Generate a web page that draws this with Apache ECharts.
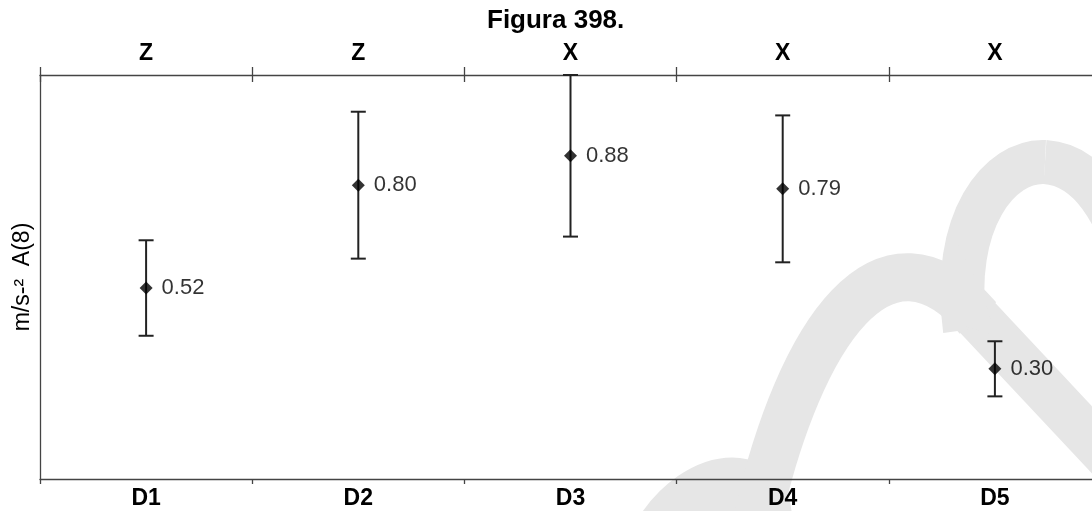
<!DOCTYPE html>
<html>
<head>
<meta charset="utf-8">
<script src="https://cdn.jsdelivr.net/npm/echarts@6/dist/echarts.min.js"></script>
<style>
html,body{margin:0;padding:0;background:#fff;}
#chart{width:1092px;height:511px;}
</style>
</head>
<body>
<div id="chart"></div>
<script>
// ---- data ----
var categories = ['D1', 'D2', 'D3', 'D4', 'D5'];
var topLabels = ['Z', 'Z', 'X', 'X', 'X'];
var values = [0.52, 0.80, 0.88, 0.79, 0.30];
var errLow = [0.39, 0.60, 0.66, 0.59, 0.225];
var errHigh = [0.65, 1.00, 1.10, 0.99, 0.375];
var yMin = 0;
var yMax = 1.1;

var FONT = '"Liberation Sans", Arial, sans-serif';
var AXIS_COLOR = '#444';
var WM = '#e6e6e6';

var chart = echarts.init(document.getElementById('chart'), null, {renderer: 'canvas'});

var errData = categories.map(function (c, i) { return [i, errLow[i], errHigh[i]]; });
var ptData = categories.map(function (c, i) { return [i, values[i]]; });

var option = {
  animation: false,
  backgroundColor: '#fff',
  title: {
    text: 'Figura 398.',
    left: 482,
    top: 3,
    textStyle: {fontFamily: FONT, fontWeight: 'bold', fontSize: 26, color: '#000'}
  },
  grid: {left: 40, top: 75, right: -9, bottom: 32, containLabel: false, outerBoundsMode: 'none'},
  xAxis: [
    {
      type: 'category', position: 'bottom', data: categories,
      axisLine: {show: true, lineStyle: {color: AXIS_COLOR, width: 1.3}},
      axisTick: {show: true, length: 5, lineStyle: {color: AXIS_COLOR, width: 1.3}},
      axisLabel: {fontFamily: FONT, fontWeight: 'bold', fontSize: 23, color: '#000', margin: 8}
    },
    {
      type: 'category', position: 'top', data: topLabels,
      axisLine: {show: true, lineStyle: {color: AXIS_COLOR, width: 1.3}},
      axisTick: {show: true, length: 8, lineStyle: {color: AXIS_COLOR, width: 1.3}},
      axisLabel: {fontFamily: FONT, fontWeight: 'bold', fontSize: 23, color: '#000', margin: 10}
    },
    {
      type: 'category', position: 'top', data: topLabels,
      axisLine: {show: false},
      axisTick: {show: true, inside: true, length: 7, lineStyle: {color: AXIS_COLOR, width: 1.3}},
      axisLabel: {show: false}
    }
  ],
  yAxis: {
    type: 'value', min: yMin, max: yMax,
    name: 'm/s-²  A(8)', nameLocation: 'middle', nameGap: 6, nameRotate: 90,
    nameTextStyle: {fontFamily: FONT, fontSize: 23, color: '#000'},
    axisLine: {show: true, lineStyle: {color: AXIS_COLOR, width: 1.3}},
    axisTick: {show: false},
    axisLabel: {show: false},
    splitLine: {show: false}
  },
  graphic: [
    {type: 'bezierCurve', silent: true, z: -10,
     shape: {x1: 660, y1: 540, cpx1: 700, cpy1: 470, cpx2: 780, cpy2: 470, x2: 758, y2: 540},
     style: {fill: 'none', stroke: WM, lineWidth: 60}},
    {type: 'bezierCurve', silent: true, z: -10,
     shape: {x1: 757, y1: 520, cpx1: 800, cpy1: 330, cpx2: 885, cpy2: 210, x2: 978, y2: 318},
     style: {fill: 'none', stroke: WM, lineWidth: 48}},
    {type: 'line', silent: true, z: -10,
     shape: {x1: 975, y1: 315, x2: 1140, y2: 491},
     style: {stroke: WM, lineWidth: 46}},
    {type: 'bezierCurve', silent: true, z: -10,
     shape: {x1: 965, y1: 330, cpx1: 950, cpy1: 220, cpx2: 1000, cpy2: 160, x2: 1045, y2: 162},
     style: {fill: 'none', stroke: WM, lineWidth: 44}},
    {type: 'bezierCurve', silent: true, z: -10,
     shape: {x1: 1045, y1: 162, cpx1: 1090, cpy1: 165, cpx2: 1115, cpy2: 210, x2: 1140, y2: 280},
     style: {fill: 'none', stroke: WM, lineWidth: 44}},
    {type: 'polygon', silent: true, z: -10,
     shape: {points: [[920, 270], [945, 262], [958, 245], [982, 290], [995, 335], [950, 322], [915, 290]]},
     style: {fill: WM}}
  ],
  series: [
    {
      type: 'custom',
      xAxisIndex: 0,
      data: errData,
      z: 5,
      renderItem: function (params, api) {
        var x = api.value(0);
        var lo = api.coord([x, api.value(1)]);
        var hi = api.coord([x, api.value(2)]);
        var cap = 7.5;
        var st = {stroke: '#222', lineWidth: 2, fill: 'none'};
        return {
          type: 'group',
          children: [
            {type: 'line', shape: {x1: lo[0], y1: lo[1], x2: hi[0], y2: hi[1]}, style: st},
            {type: 'line', shape: {x1: lo[0] - cap, y1: lo[1], x2: lo[0] + cap, y2: lo[1]}, style: st},
            {type: 'line', shape: {x1: hi[0] - cap, y1: hi[1], x2: hi[0] + cap, y2: hi[1]}, style: st}
          ]
        };
      }
    },
    {
      type: 'scatter',
      xAxisIndex: 0,
      data: ptData,
      z: 10,
      symbol: 'diamond',
      symbolSize: [13, 13],
      itemStyle: {color: '#000'},
      label: {
        show: true, position: 'right', distance: 9,
        fontFamily: FONT, fontSize: 22, color: '#000',
        formatter: function (p) { return p.value[1].toFixed(2); }
      }
    }
  ]
};
chart.setOption(option);
</script>
</body>
</html>
